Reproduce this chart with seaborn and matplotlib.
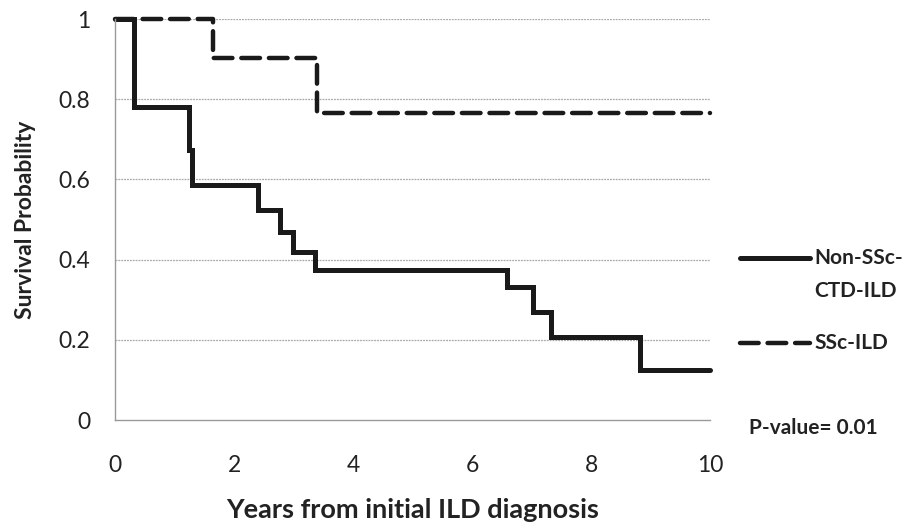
import pandas as pd
import seaborn as sns
import matplotlib.pyplot as plt
from matplotlib.lines import Line2D

# Kaplan-Meier step points
non_ssc_years = [0, 0.32, 1.24, 1.29, 2.40, 2.77, 2.99, 3.35, 6.59, 7.03, 7.33, 8.82, 10]
non_ssc_surv = [1.0, 0.78, 0.673, 0.586, 0.524, 0.469, 0.419, 0.374, 0.332, 0.269, 0.207, 0.125, 0.125]

ssc_years = [0, 1.65, 3.39, 10]
ssc_surv = [1.0, 0.903, 0.766, 0.766]

x_ticks = [0, 2, 4, 6, 8, 10]
y_ticks = [0, 0.2, 0.4, 0.6, 0.8, 1]
y_tick_labels = ["0", "0.2", "0.4", "0.6", "0.8", "1"]

df_non = pd.DataFrame({"years": non_ssc_years, "surv": non_ssc_surv})
df_ssc = pd.DataFrame({"years": ssc_years, "surv": ssc_surv})

sns.set_style("white")
plt.rcParams['font.family'] = ['Lato', 'DejaVu Sans']

fig = plt.figure(figsize=(9.07, 5.29), dpi=100)
ax = fig.add_axes([0.127, 0.206, 0.656, 0.758])

sns.lineplot(data=df_non, x="years", y="surv", ax=ax, color="#1a1a1a", lw=3.6,
             drawstyle="steps-post", estimator=None, sort=False, clip_on=False,
             solid_joinstyle="miter")
sns.lineplot(data=df_ssc, x="years", y="surv", ax=ax, color="#1a1a1a", lw=3.2,
             drawstyle="steps-post", estimator=None, sort=False, clip_on=False,
             dashes=False, linestyle=(0, (4.2, 2.0)), dash_capstyle="round")

ax.set_xlim(0, 10)
ax.set_ylim(0, 1)
ax.set_xticks(x_ticks)
ax.set_xticklabels([str(t) for t in x_ticks])
ax.set_yticks(y_ticks)
ax.set_yticklabels(y_tick_labels)
ax.tick_params(axis='x', length=0, pad=25, labelsize=16.5, colors="#222222")
ax.tick_params(axis='y', length=0, pad=18, labelsize=16.5, colors="#222222")

for y in y_ticks[1:]:
    ax.axhline(y, color="#a8a8a8", lw=0.9, ls=(0, (1.5, 0.8)), zorder=0)

for side in ["top", "right"]:
    ax.spines[side].set_visible(False)
for side in ["left", "bottom"]:
    ax.spines[side].set_color("#9a9a9a")
    ax.spines[side].set_linewidth(1.0)

ax.set_xlabel("Years from initial ILD diagnosis", fontsize=19.5, fontweight="bold",
              color="#222222", labelpad=16)
ax.set_ylabel("Survival Probability", fontsize=16.5, fontweight="bold",
              color="#222222", labelpad=16)

# legend drawn at the right of the plot area
fig.add_artist(Line2D([0.816, 0.893], [1 - 258 / 529] * 2, color="#1a1a1a", lw=3.6))
fig.text(0.898, 1 - 258 / 529, "Non-SSc-", fontsize=15, fontweight="bold",
         color="#222222", va="center")
fig.text(0.898, 1 - 291 / 529, "CTD-ILD", fontsize=15, fontweight="bold",
         color="#222222", va="center")
fig.add_artist(Line2D([0.816, 0.893], [1 - 343 / 529] * 2, color="#1a1a1a", lw=3.2,
                      ls=(0, (4.2, 2.0)), dash_capstyle="round"))
fig.text(0.898, 1 - 343 / 529, "SSc-ILD", fontsize=15, fontweight="bold",
         color="#222222", va="center")
fig.text(0.826, 1 - 428 / 529, "P-value= 0.01", fontsize=15, fontweight="bold",
         color="#222222", va="center")

fig.savefig("out.png", dpi=100, facecolor="white")
